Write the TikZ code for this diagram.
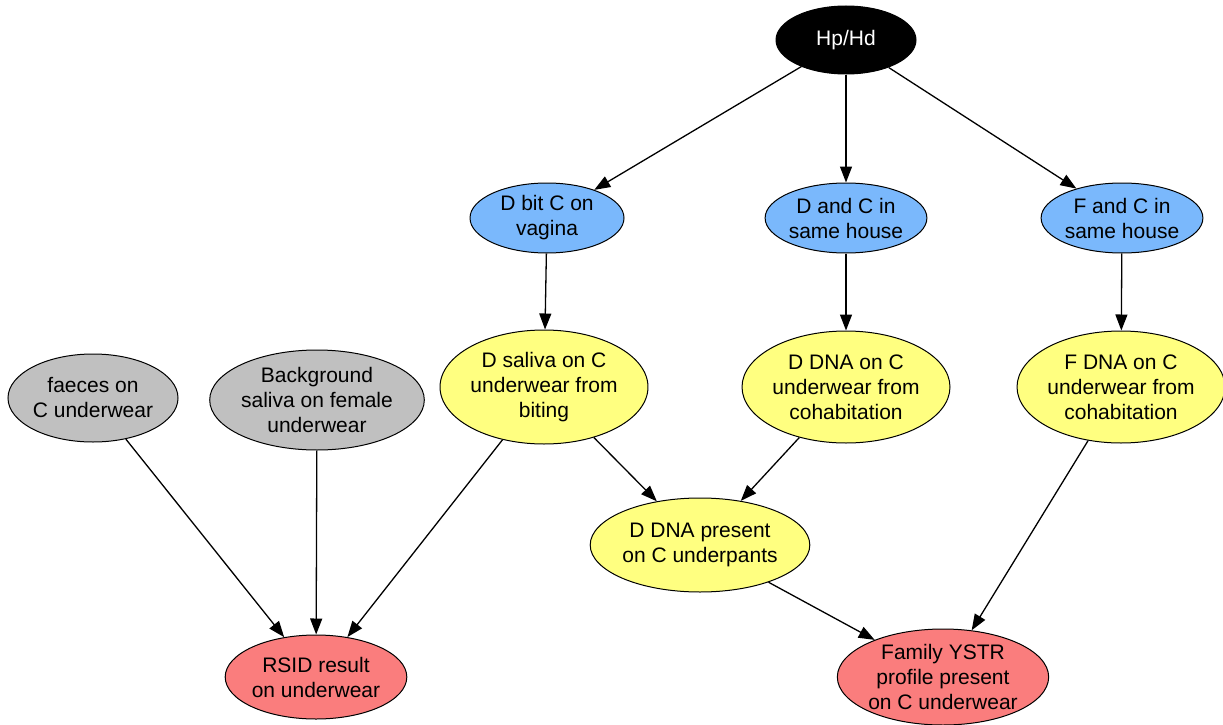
\documentclass[tikz,border=0pt]{standalone}
\usepackage{fontspec}
\setmainfont{Liberation Sans}
\usetikzlibrary{shapes.geometric,arrows.meta}
\definecolor{cblue}{RGB}{122,184,252}
\definecolor{cyellow}{RGB}{255,255,128}
\definecolor{cgrey}{RGB}{192,192,192}
\definecolor{cred}{RGB}{250,125,125}
\begin{document}
\begin{tikzpicture}[x=1pt,y=-1pt,
  ell/.style={ellipse,draw=black,line width=1pt,inner sep=0pt,align=center,
    font=\fontsize{21}{25}\selectfont},
  conn/.style={line width=1.3pt,-{Triangle[length=16pt,width=12pt]}}]
\useasboundingbox (0,0) rectangle (1223,725);
\node[ell,fill=black,text=white,minimum width=140pt,minimum height=68pt] (hp) at (846,40) {Hp/Hd};
\node[ell,fill=cblue,minimum width=154pt,minimum height=70pt] (bit) at (547,218) {D bit C on\\vagina};
\node[ell,fill=cblue,minimum width=156pt,minimum height=70pt] (dch) at (846,218) {D and C in\\same house};
\node[ell,fill=cblue,minimum width=160pt,minimum height=70pt] (fch) at (1122,218) {F and C in\\same house};
\node[ell,fill=cyellow,minimum width=171pt,minimum height=114pt] (sal) at (544,387) {D saliva on C\\underwear from\\biting};
\node[ell,fill=cyellow,minimum width=193pt,minimum height=112pt] (dco) at (846,387) {D DNA on C\\underwear from\\cohabitation};
\node[ell,fill=cyellow,minimum width=203pt,minimum height=112pt] (fco) at (1121,387) {F DNA on C\\underwear from\\cohabitation};
\node[ell,fill=cgrey,minimum width=169pt,minimum height=88pt] (fae) at (93,398) {faeces on\\C underwear};
\node[ell,fill=cgrey,minimum width=184pt,minimum height=100pt] (bg) at (317,400) {Background\\saliva on female\\underwear};
\node[ell,fill=cyellow,minimum width=194pt,minimum height=94pt] (pres) at (700,545) {D DNA present\\on C underpants};
\node[ell,fill=cred,minimum width=154pt,minimum height=84pt] (rsid) at (316,677) {RSID result\\on underwear};
\node[ell,fill=cred,minimum width=192pt,minimum height=96pt] (fam) at (943,677) {Family YSTR\\profile present\\on C underwear};
\draw[conn] (hp) -- (bit);
\draw[conn] (hp) -- (dch);
\draw[conn] (hp) -- (fch);
\draw[conn] (bit) -- (sal);
\draw[conn] (dch) -- (dco);
\draw[conn] (fch) -- (fco);
\draw[conn] (fae) -- (rsid);
\draw[conn] (bg) -- (rsid);
\draw[conn] (sal) -- (rsid);
\draw[conn] (sal) -- (pres);
\draw[conn] (dco) -- (pres);
\draw[conn] (pres) -- (fam);
\draw[conn] (fco) -- (fam);
\end{tikzpicture}
\end{document}
